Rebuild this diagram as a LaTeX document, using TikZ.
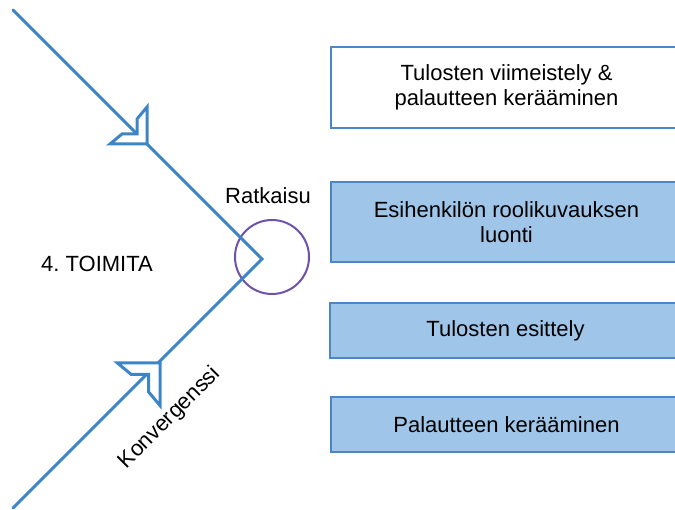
\documentclass[tikz,border=0pt]{standalone}
\usepackage{fontspec}
\setmainfont{Liberation Sans}
\usepackage{tikz}
\frenchspacing

\definecolor{flowblue}{HTML}{3D85C6}
\definecolor{boxedge}{HTML}{4A86C8}
\definecolor{boxfill}{HTML}{9FC5E8}
\definecolor{ringpurple}{HTML}{6F52A8}

\tikzset{
  chevron/.pic={
    \draw[flowline, fill=white] (0,-37) -- (0,0) -- (-37,0) -- (-25,-10) -- (-10,-10) -- (-10,-25) -- cycle;
  }
}

\begin{document}
\begin{tikzpicture}[x=1pt, y=-1pt,
    flowline/.style={draw=flowblue, line width=3pt, line join=miter},
    taskbox/.style={rectangle, draw=boxedge, line width=2pt, fill=boxfill,
      minimum width=351pt, align=center, inner sep=0pt},
    label/.style={font=\fontsize{22}{25}\selectfont, inner sep=0pt}]
  \useasboundingbox (0,0) rectangle (675,510);
  \clip (0,0) rectangle (675,510);
  % Nodes
  \coordinate (start) at (13,10);
  \coordinate (vertex) at (262,259);
  \coordinate (end) at (13,508);
  \node[circle, draw=ringpurple, line width=2pt, minimum size=74pt, inner sep=0pt] (ring) at (272,257) {};
  \node[label] (ratkaisu) at (268,196) {Ratkaisu};
  \node[label] (toimita) at (97,264) {4. TOIMITA};
  \node[label, rotate=45] (konvergenssi) at (170,418) {Konvergenssi};
  \node[taskbox, fill=white, minimum height=81pt, label] (finish) at (506.5,87.5) {Tulosten viimeistely \&\\palautteen kerääminen};
  \node[taskbox, minimum height=80pt, label] (role) at (506.5,222) {Esihenkilön roolikuvauksen\\luonti};
  \node[taskbox, minimum height=55pt, label] (present) at (505.5,330.5) {Tulosten esittely};
  \node[taskbox, minimum height=55pt, label] (feedback) at (506.5,424.5) {Palautteen kerääminen};
  % Edges
  \draw[flowline, line cap=round] (start) -- (vertex) -- (end);
  \pic at (147,144) {chevron};
  \pic[yscale=-1, scale=1.15] at (160,363) {chevron};
\end{tikzpicture}
\end{document}
